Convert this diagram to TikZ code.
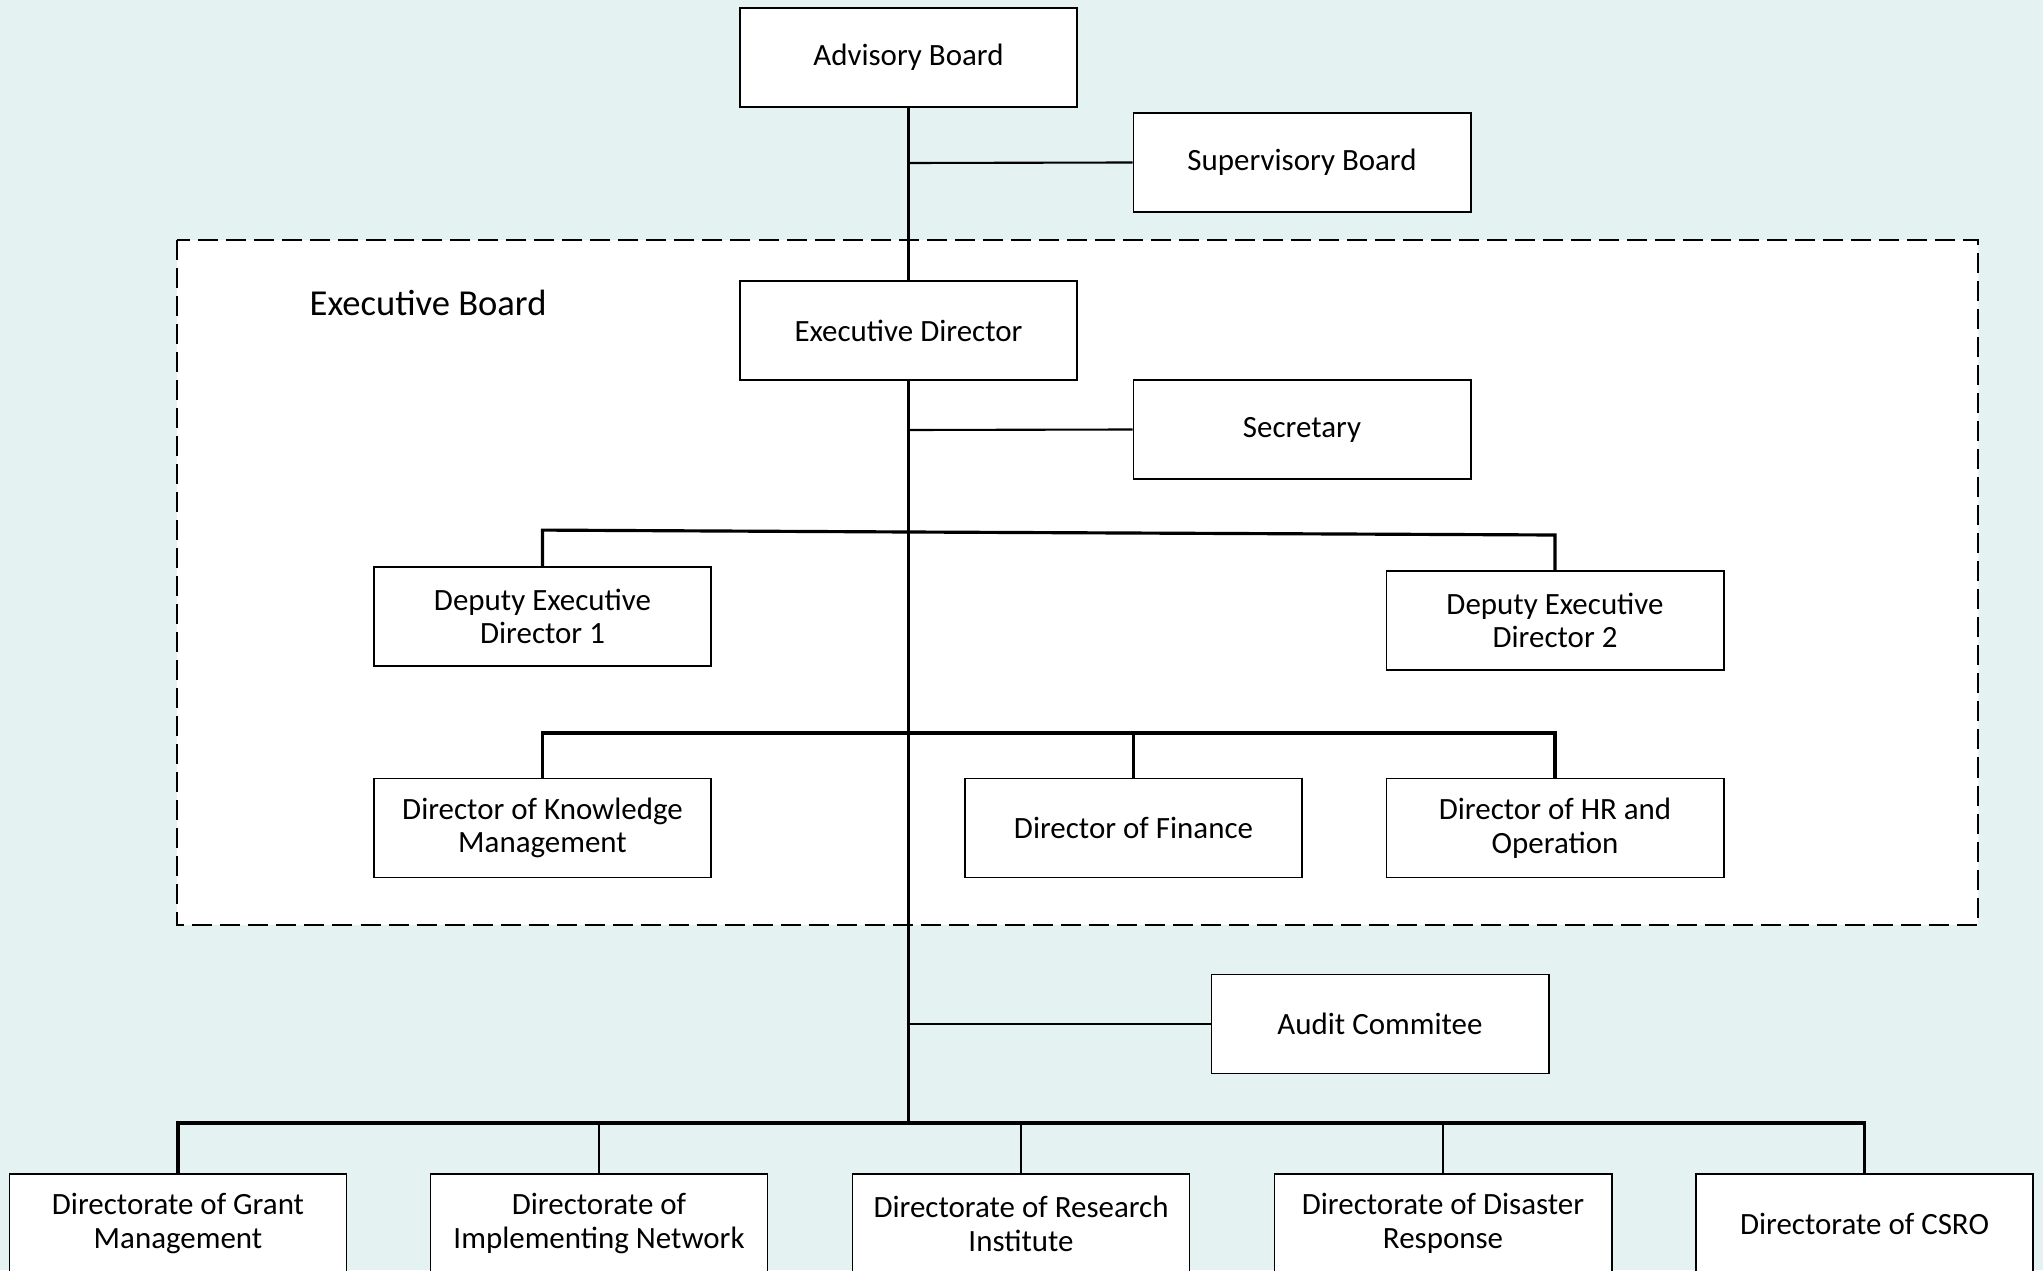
\documentclass[tikz,border=0pt]{standalone}
\usepackage{fontspec}
\setmainfont{Carlito}
\definecolor{bgc}{HTML}{E4F2F2}
\begin{document}
\begin{tikzpicture}[x=0.01cm,y=-0.01cm,
  orgbox/.style={draw=black, line width=0.5pt, fill=white, minimum width=3.37cm, minimum height=0.99cm,
    inner sep=0pt, align=center, font=\fontsize{8.8}{9.6}\selectfont},
  conn/.style={line width=0.6pt, black},
  bar/.style={line width=0.9pt, black}]
\fill[bgc] (0,0) rectangle (2043,1270);
\useasboundingbox (0,0) rectangle (2043,1270);
% executive board frame
\draw[fill=white, line width=0.8pt, dash pattern=on 0.2cm off 0.08cm] (177,240) rectangle (1978,925);
\node[anchor=west, inner sep=0pt, font=\fontsize{10.4}{12}\selectfont] (eblabel) at (309,303) {Executive Board};
% nodes
\node[orgbox] (adv) at (908.5,57.5) {Advisory Board};
\node[orgbox] (sup) at (1302,162.5) {Supervisory Board};
\node[orgbox] (exd) at (908.5,330.5) {Executive Director};
\node[orgbox] (sec) at (1302,429.5) {Secretary};
\node[orgbox] (ded1) at (542.5,616.5) {Deputy Executive\\Director 1};
\node[orgbox] (ded2) at (1555,620.5) {Deputy Executive\\Director 2};
\node[orgbox] (dkm) at (542.5,828) {Director of Knowledge\\Management};
\node[orgbox] (dfin) at (1133.5,828) {Director of Finance};
\node[orgbox] (dhr) at (1555,828) {Director of HR and\\Operation};
\node[orgbox] (aud) at (1380,1024) {Audit Commitee};
\node[orgbox] (g1) at (178,1223.5) {Directorate of Grant\\Management};
\node[orgbox] (g2) at (599,1223.5) {Directorate of\\Implementing Network};
\node[orgbox] (g3) at (1021,1223.5) {Directorate of Research\\Institute};
\node[orgbox] (g4) at (1443,1223.5) {Directorate of Disaster\\Response};
\node[orgbox] (g5) at (1864.5,1223.5) {Directorate of CSRO};
% junction coordinates
\coordinate (jsup) at (908.5,163);
\coordinate (jsec) at (908.5,430);
\coordinate (jded) at (908.5,532);
\coordinate (jdir) at (908.5,733);
\coordinate (jaud) at (908.5,1024);
\coordinate (jbot) at (908.5,1123);
% connectors
\draw[conn, line width=0.75pt] (adv.south) -- (exd.north);
\draw[conn, line width=0.75pt] (exd.south) -- (jbot);
\draw[conn] (jsup) -- (sup.west);
\draw[conn] (jsec) -- (sec.west);
\draw[conn] (jaud) -- (aud.west);
\draw[bar] (ded1.north) -- ++(0,-36) -- (jded) -- (1555,535) -- (ded2.north);
\draw[bar] (dkm.north) |- (jdir) -| (dhr.north);
\draw[conn] (dfin.north) -- (dfin.north |- jdir);
\draw[bar] (g1.north) |- (jbot) -| (g5.north);
\draw[conn] (g2.north) -- (g2.north |- jbot);
\draw[conn] (g3.north) -- (g3.north |- jbot);
\draw[conn] (g4.north) -- (g4.north |- jbot);
\end{tikzpicture}
\end{document}
